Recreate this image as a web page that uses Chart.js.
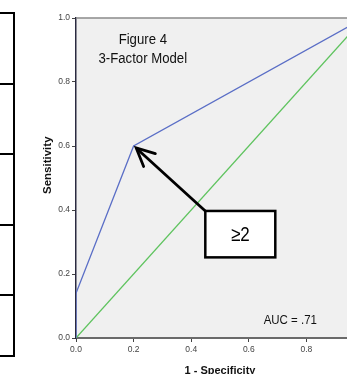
<!DOCTYPE html>
<html>
<head>
<meta charset="utf-8">
<script src="https://cdn.jsdelivr.net/npm/chart.js@4/dist/chart.umd.min.js"></script>
<style>
  html, body { margin: 0; padding: 0; background: #ffffff; overflow: hidden; width: 347px; height: 374px; }
  #wrap { position: absolute; left: 0; top: 0; width: 380px; height: 380px; }
  #tbl { position: absolute; left: -20px; top: 12px; width: 31px; height: 341px; border: 2px solid #000; box-sizing: content-box; }
  .row { position: absolute; left: 0; width: 100%; height: 0; border-top: 2px solid #000; }
</style>
</head>
<body>
<div id="tbl">
  <div class="row" style="top:69px"></div>
  <div class="row" style="top:139px"></div>
  <div class="row" style="top:210px"></div>
  <div class="row" style="top:280px"></div>
</div>
<div id="wrap"><canvas id="c" width="380" height="380"></canvas></div>
<script>
// ---- data ----
const rocX = [0, 0, 0.2, 1];
const rocY = [0, 0.14, 0.6, 1];
const refX = [0, 1];
const refY = [0, 1];
const tickValues = [0, 0.2, 0.4, 0.6, 0.8, 1.0];
const xTitle = '1 - Specificity';
const yTitle = 'Sensitivity';
const figureLines = ['Figure 4', '3-Factor Model'];
const aucLabel = 'AUC = .71';
const cutLabel = '\u22652';

const SANS = "'Liberation Sans', Arial, sans-serif";
const SQUEEZE = 0.85;

const pts = (xs, ys) => xs.map((x, i) => ({x: x, y: ys[i]}));

function squeezedText(ctx, text, x, y) {
  ctx.save();
  ctx.translate(x, y);
  ctx.scale(SQUEEZE, 1);
  ctx.fillText(text, 0, 0);
  ctx.restore();
}

const bgPlugin = {
  id: 'bg',
  beforeDraw(chart) {
    const {ctx, chartArea: a} = chart;
    ctx.save();
    ctx.fillStyle = '#f0f0f0';
    ctx.fillRect(a.left, a.top, a.right - a.left, a.bottom - a.top);
    ctx.restore();
  },
  afterDraw(chart) {
    const {ctx, chartArea: a} = chart;
    ctx.save();
    ctx.strokeStyle = '#8a8a8a';
    ctx.lineWidth = 1.5;
    ctx.beginPath();
    ctx.moveTo(a.left, a.top);
    ctx.lineTo(a.right, a.top);
    ctx.lineTo(a.right, a.bottom);
    ctx.stroke();
    ctx.restore();
  }
};

const annoPlugin = {
  id: 'anno',
  afterDatasetsDraw(chart) {
    const {ctx} = chart;
    const xs = chart.scales.x, ys = chart.scales.y;
    const px = v => xs.getPixelForValue(v), py = v => ys.getPixelForValue(v);
    ctx.save();
    // figure caption
    ctx.fillStyle = '#111';
    ctx.textAlign = 'center';
    ctx.textBaseline = 'middle';
    ctx.font = '15.5px ' + SANS;
    squeezedText(ctx, figureLines[0], px(0.232), py(0.931));
    squeezedText(ctx, figureLines[1], px(0.232), py(0.872));
    // AUC
    ctx.font = '13.5px ' + SANS;
    squeezedText(ctx, aucLabel, px(0.744), py(0.056));
    // arrow
    const tipX = px(0.209), tipY = py(0.594);
    const tailX = px(0.449), tailY = py(0.397);
    ctx.strokeStyle = '#000';
    ctx.lineWidth = 2.8;
    ctx.lineCap = 'round';
    ctx.beginPath();
    ctx.moveTo(tailX, tailY);
    ctx.lineTo(tipX + 1, tipY + 1);
    ctx.stroke();
    const ang = Math.atan2(tailY - tipY, tailX - tipX);
    const L = 20, spread = 0.45;
    ctx.beginPath();
    ctx.moveTo(tipX + L * Math.cos(ang - spread), tipY + L * Math.sin(ang - spread));
    ctx.lineTo(tipX, tipY);
    ctx.lineTo(tipX + L * Math.cos(ang + spread), tipY + L * Math.sin(ang + spread));
    ctx.stroke();
    // box
    const bx1 = px(0.449), bx2 = px(0.692), by1 = py(0.397), by2 = py(0.252);
    ctx.fillStyle = '#fff';
    ctx.fillRect(bx1, by1, bx2 - bx1, by2 - by1);
    ctx.lineWidth = 2.5;
    ctx.strokeRect(bx1, by1, bx2 - bx1, by2 - by1);
    ctx.fillStyle = '#000';
    ctx.font = '20px ' + SANS;
    squeezedText(ctx, cutLabel, (bx1 + bx2) / 2, (by1 + by2) / 2 + 1);
    ctx.restore();
  }
};

const tickFont = {family: SANS, size: 8.5};

new Chart(document.getElementById('c'), {
  type: 'scatter',
  data: {
    datasets: [
      { label: 'ROC', data: pts(rocX, rocY), showLine: true, borderColor: '#5a6ec6', borderWidth: 1.3, pointRadius: 0, fill: false, tension: 0 },
      { label: 'Reference', data: pts(refX, refY), showLine: true, borderColor: '#5ec35e', borderWidth: 1.3, pointRadius: 0, fill: false, tension: 0 }
    ]
  },
  options: {
    responsive: false,
    devicePixelRatio: 1,
    animation: false,
    layout: { padding: { top: 18, right: 16, left: 0, bottom: 0 } },
    plugins: { legend: { display: false }, tooltip: { enabled: false } },
    scales: {
      x: {
        type: 'linear', min: 0, max: 1,
        afterFit(s) { s.height = 42; },
        afterBuildTicks(s) { s.ticks = tickValues.map(v => ({value: v})); },
        ticks: { font: tickFont, color: '#444', padding: 3, callback: v => Number(v).toFixed(1), maxRotation: 0 },
        grid: { drawOnChartArea: false, drawTicks: true, tickLength: 4, color: '#444', tickWidth: 1 },
        border: { display: true, color: '#6a6a6a', width: 2 },
        title: { display: true, text: xTitle, font: {family: SANS, size: 11, weight: 'bold'}, color: '#111', padding: {top: 0, bottom: 2} }
      },
      y: {
        type: 'linear', min: 0, max: 1,
        afterFit(s) { s.width = 76; },
        afterBuildTicks(s) { s.ticks = tickValues.map(v => ({value: v})); },
        ticks: { font: tickFont, color: '#444', padding: 2, callback: v => Number(v).toFixed(1) },
        grid: { drawOnChartArea: false, drawTicks: true, tickLength: 4, color: '#444', tickWidth: 1 },
        border: { display: true, color: '#2a2a40', width: 1.5 },
        title: { display: true, text: '        ' + yTitle, font: {family: SANS, size: 11.5, weight: 'bold'}, color: '#111', padding: {top: 41, bottom: 0} }
      }
    }
  },
  plugins: [bgPlugin, annoPlugin]
});
</script>
</body>
</html>
